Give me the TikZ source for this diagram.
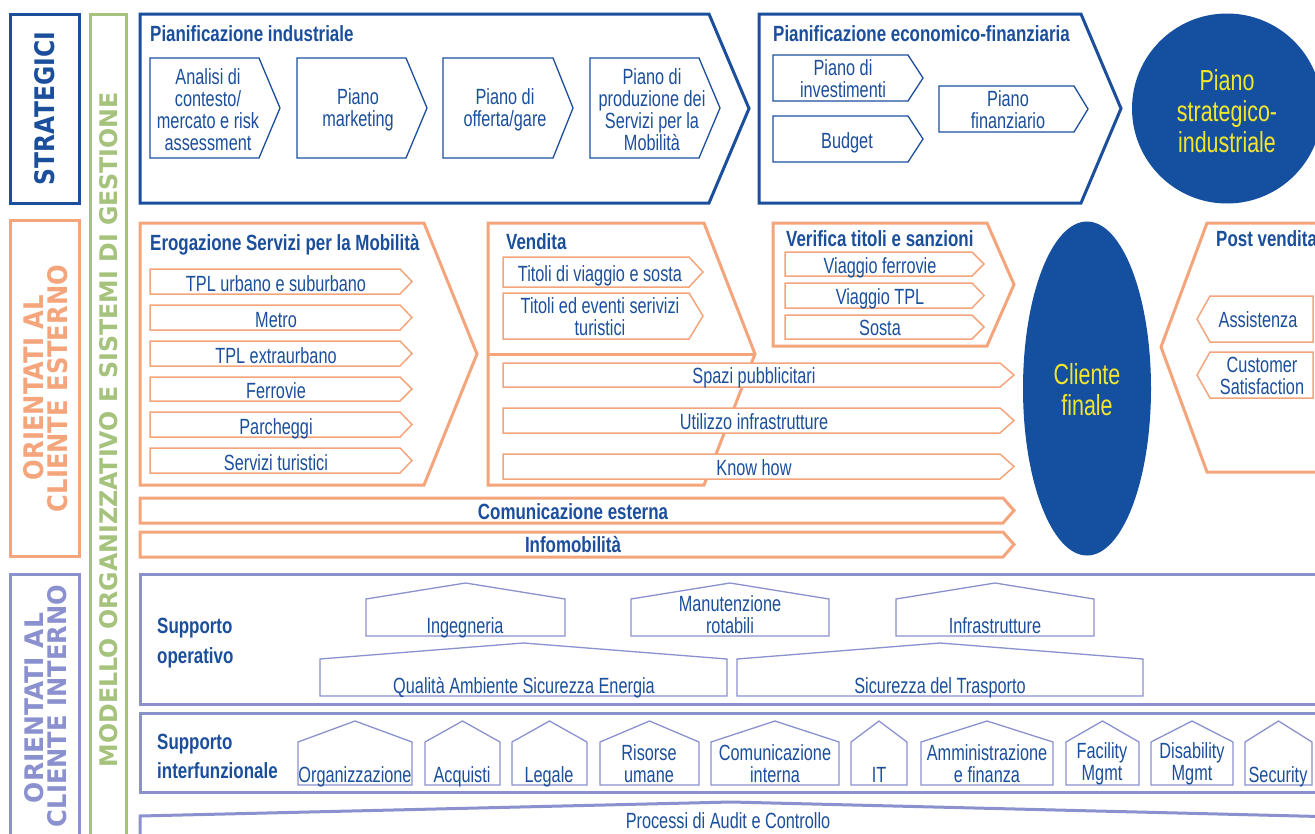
\documentclass[tikz,border=0pt]{standalone}
\usepackage{fontspec}
\usepackage{graphicx}
\usetikzlibrary{shapes.geometric}
\setmainfont{Liberation Sans}[FakeStretch=0.74]
\newfontfamily\bfam{Liberation Sans}[FakeStretch=0.77]
\newfontfamily\widefont{DejaVu Sans}
\definecolor{cblue}{HTML}{1B4F9C}
\definecolor{cfill}{HTML}{1550A0}
\definecolor{cyel}{HTML}{F2E62C}
\definecolor{corange}{HTML}{F5A57C}
\definecolor{cgreen}{HTML}{A6C37D}
\definecolor{cperi}{HTML}{8B91CF}
\newcommand{\ArrR}[6][]{\draw[#1] (#2,#3) -- (#4,#3) -- (#6,{(#3+#5)/2}) -- (#4,#5) -- (#2,#5) -- cycle;}
\newcommand{\ArrL}[6][]{\draw[#1] (#4,#3) -- (#2,#3) -- (#6,{(#3+#5)/2}) -- (#2,#5) -- (#4,#5) -- cycle;}
\newcommand{\HouseShape}[6][]{\draw[#1] (#2,#6) -- (#2,#5) -- ({(#2+#3)/2},#4) -- (#3,#5) -- (#3,#6) -- cycle;}
\tikzset{
  bigblue/.style={draw=cblue, line width=3pt},
  bigor/.style={draw=corange, line width=3pt},
  bigperi/.style={draw=cperi, line width=3pt},
  biggreen/.style={draw=cgreen, line width=3pt},
  thinblue/.style={draw=cblue, line width=1.3pt, fill=white},
  thinor/.style={draw=corange, line width=1.5pt, fill=white},
  thinperi/.style={draw=cperi, line width=1.3pt, fill=white},
  txt/.style={text=cblue, font=\fontsize{22}{22}\selectfont, inner sep=0pt, align=center},
  ttl/.style={text=cblue, font=\bfam\bfseries\fontsize{22}{22}\selectfont, inner sep=0pt},
  big/.style={text=cyel, font=\fontsize{29}{31}\selectfont, inner sep=0pt, align=center},
  vlab/.style={rotate=90, inner sep=0pt},
}
\begin{document}
\begin{tikzpicture}[x=1pt,y=-1pt]
\useasboundingbox (0,0) rectangle (1315,833);
\clip (0,0) rectangle (1315,833);
\fill[white] (0,0) rectangle (1315,833);

% ---------- left columns ----------
\draw[bigblue] (10,14) rectangle (79,203);
\draw[bigor] (10,220) rectangle (79,556);
\draw[bigperi] (10,574) rectangle (79,860);
\draw[biggreen] (90,14) rectangle (126,860);

\node[vlab, text=cblue] (lstrat) at (45,108.5) {\resizebox{153pt}{20pt}{\widefont\bfseries STRATEGICI}};
\node[vlab, text=corange] (lest1) at (34,387.5) {\resizebox{185pt}{20pt}{\widefont\bfseries ORIENTATI AL}};
\node[vlab, text=corange] (lest2) at (58,388.5) {\resizebox{247pt}{20pt}{\widefont\bfseries CLIENTE ESTERNO}};
\node[vlab, text=cperi] (lint1) at (34,708) {\resizebox{190pt}{19pt}{\widefont\bfseries ORIENTATI AL}};
\node[vlab, text=cperi] (lint2) at (57.5,706) {\resizebox{242pt}{19pt}{\widefont\bfseries CLIENTE INTERNO}};
\node[vlab, text=cgreen] (lmod) at (109,429.5) {\resizebox{675pt}{18pt}{\widefont\bfseries MODELLO ORGANIZZATIVO E SISTEMI DI GESTIONE}};

% ---------- strategic row ----------
\draw[bigblue] (140,14) -- (709,14) -- (749,108.5) -- (709,203) -- (140,203) -- cycle;
\draw[bigblue] (759,14) -- (1081,14) -- (1121,108.5) -- (1081,203) -- (759,203) -- cycle;
\node[ttl, anchor=base west] (tpi) at (150,41) {Pianificazione industriale};
\node[ttl, anchor=base west] (tpe) at (773,41) {Pianificazione economico-finanziaria};

\ArrR[thinblue]{150}{58}{259}{158}{280}
\ArrR[thinblue]{297}{58}{406}{158}{427}
\ArrR[thinblue]{443}{58}{553}{158}{573}
\ArrR[thinblue]{590}{58}{699}{158}{720}
\ArrR[thinblue]{773}{55}{908}{101}{923}
\ArrR[thinblue]{773}{116}{908}{162}{923}
\ArrR[thinblue]{939}{86}{1074}{132}{1088}

\node[txt] (an) at (208,110) {Analisi di\\contesto/\\mercato e risk\\assessment};
\node[txt] (pm) at (358,110) {Piano\\marketing};
\node[txt] (po) at (505,110) {Piano di\\offerta/gare};
\node[txt] (pp) at (652,110) {Piano di\\produzione dei\\Servizi per la\\Mobilità};
\node[txt] (pinv) at (843,79) {Piano di\\investimenti};
\node[txt, anchor=base] (bud) at (847,148) {Budget};
\node[txt] (pfin) at (1008,110) {Piano\\finanziario};

\node[circle, fill=cfill, minimum size=190pt, inner sep=0pt] (psi) at (1227,108.5) {};
\node[big] (psit) at (1227,111) {Piano\\strategico-\\industriale};

% ---------- external client row ----------
\draw[bigor] (140,223) -- (424,223) -- (477,354) -- (424,485) -- (140,485) -- cycle;
\draw[bigor] (488,223) -- (704,223) -- (755,354) -- (704,485) -- (488,485) -- cycle;
\draw[bigor] (488,354) -- (755,354);
\draw[bigor] (773,223) -- (987,223) -- (1014,284.5) -- (987,346) -- (773,346) -- cycle;
\draw[bigor] (1330,223) -- (1207,223) -- (1161,347) -- (1207,472) -- (1330,472);

\node[ttl, anchor=base west] (tero) at (150,250) {Erogazione Servizi per la Mobilità};
\node[ttl, anchor=base west] (tven) at (506,249) {Vendita};
\node[ttl, anchor=base west] (tver) at (786,246) {Verifica titoli e sanzioni};
\node[ttl, anchor=base west] (tpost) at (1216,246) {Post vendita};

\ArrR[thinor]{150}{269}{400}{294}{412}
\ArrR[thinor]{150}{305}{400}{330}{412}
\ArrR[thinor]{150}{341}{400}{366}{412}
\ArrR[thinor]{150}{377}{400}{401}{412}
\ArrR[thinor]{150}{412}{400}{437}{412}
\ArrR[thinor]{150}{448}{400}{473}{412}
\node[txt, anchor=base] (e1) at (276,291.5) {TPL urbano e suburbano};
\node[txt, anchor=base] (e2) at (276,327.5) {Metro};
\node[txt, anchor=base] (e3) at (276,363.5) {TPL extraurbano};
\node[txt, anchor=base] (e4) at (276,398.5) {Ferrovie};
\node[txt, anchor=base] (e5) at (276,434) {Parcheggi};
\node[txt, anchor=base] (e6) at (276,470) {Servizi turistici};

\ArrR[thinor]{503}{257}{689}{287}{703}
\ArrR[thinor]{503}{293}{689}{339}{703}
\node[txt, anchor=base] (v1) at (600,281) {Titoli di viaggio e sosta};
\node[txt] (v2) at (600,317) {Titoli ed eventi serivizi\\turistici};

\ArrR[thinor]{503}{363}{1000}{387}{1014}
\ArrR[thinor]{503}{408}{1000}{433}{1014}
\ArrR[thinor]{503}{454}{1000}{479}{1014}
\node[txt, anchor=base] (s1) at (754,383) {Spazi pubblicitari};
\node[txt, anchor=base] (s2) at (754,429) {Utilizzo infrastrutture};
\node[txt, anchor=base] (s3) at (754,475) {Know how};

\ArrR[thinor]{785}{252}{972}{276}{984}
\ArrR[thinor]{785}{283}{972}{308}{984}
\ArrR[thinor]{785}{315}{972}{339}{984}
\node[txt, anchor=base] (f1) at (880,273) {Viaggio ferrovie};
\node[txt, anchor=base] (f2) at (880,304) {Viaggio TPL};
\node[txt, anchor=base] (f3) at (880,335) {Sosta};

\ArrR[bigor]{140}{498}{1003}{523}{1014}
\ArrR[bigor]{140}{532}{1003}{557}{1014}
\node[ttl, anchor=base] (ce) at (573,519) {Comunicazione esterna};
\node[ttl, anchor=base] (im) at (573,552) {Infomobilità};

\node[ellipse, fill=cfill, minimum width=128pt, minimum height=334pt, inner sep=0pt] (cf) at (1087,388.5) {};
\node[big] (cft) at (1087,390) {Cliente\\finale};

\ArrL[thinor]{1210}{296}{1313}{342}{1197}
\ArrL[thinor]{1210}{352}{1313}{398}{1197}
\node[txt, anchor=base] (pa) at (1258,327) {Assistenza};
\node[txt] (pc) at (1262,376) {Customer\\Satisfaction};

% ---------- internal client rows ----------
\draw[bigperi] (140,574) rectangle (1340,704);
\draw[bigperi] (140,713) rectangle (1340,792);
\draw[bigperi] (140,860) -- (140,816) -- (731,802) -- (1340,817);

\node[ttl, align=left, anchor=west, font=\bfam\bfseries\fontsize{22}{30}\selectfont] (so) at (157,643) {Supporto\\operativo};
\node[ttl, align=left, anchor=west, font=\bfam\bfseries\fontsize{22}{29}\selectfont] (si) at (157,756) {Supporto\\interfunzionale};

\HouseShape[thinperi]{366}{565}{583}{599}{636}
\HouseShape[thinperi]{631}{829}{583}{599}{636}
\HouseShape[thinperi]{896}{1094}{583}{599}{636}
\HouseShape[thinperi]{320}{727}{643}{659}{696}
\HouseShape[thinperi]{737}{1143}{643}{659}{696}
\node[txt, anchor=base] (h1) at (465,633) {Ingegneria};
\node[txt] (h2) at (730,615) {Manutenzione\\rotabili};
\node[txt, anchor=base] (h3) at (995,633) {Infrastrutture};
\node[txt, anchor=base] (h4) at (524,693) {Qualità Ambiente Sicurezza Energia};
\node[txt, anchor=base] (h5) at (940,693) {Sicurezza del Trasporto};

\HouseShape[thinperi]{298}{412}{721}{742}{785}
\HouseShape[thinperi]{425}{500}{721}{742}{785}
\HouseShape[thinperi]{512}{587}{721}{742}{785}
\HouseShape[thinperi]{600}{699}{721}{742}{785}
\HouseShape[thinperi]{711}{839}{721}{742}{785}
\HouseShape[thinperi]{851}{907}{721}{742}{785}
\HouseShape[thinperi]{921}{1053}{721}{742}{785}
\HouseShape[thinperi]{1066}{1139}{721}{742}{785}
\HouseShape[thinperi]{1151}{1233}{721}{742}{785}
\HouseShape[thinperi]{1245}{1312}{721}{742}{785}
\node[txt, anchor=base] (i1) at (355,782) {Organizzazione};
\node[txt, anchor=base] (i2) at (462,782) {Acquisti};
\node[txt, anchor=base] (i3) at (549,782) {Legale};
\node[txt] (i4) at (649,764) {Risorse\\umane};
\node[txt] (i5) at (775,764) {Comunicazione\\interna};
\node[txt, anchor=base] (i6) at (879,782) {IT};
\node[txt] (i7) at (987,764) {Amministrazione\\e finanza};
\node[txt] (i8) at (1102,764) {Facility\\Mgmt};
\node[txt] (i9) at (1192,764) {Disability\\Mgmt};
\node[txt, anchor=base] (i10) at (1278,782) {Security};

\node[txt, anchor=base] (pac) at (728,828) {Processi di Audit e Controllo};
\end{tikzpicture}
\end{document}
